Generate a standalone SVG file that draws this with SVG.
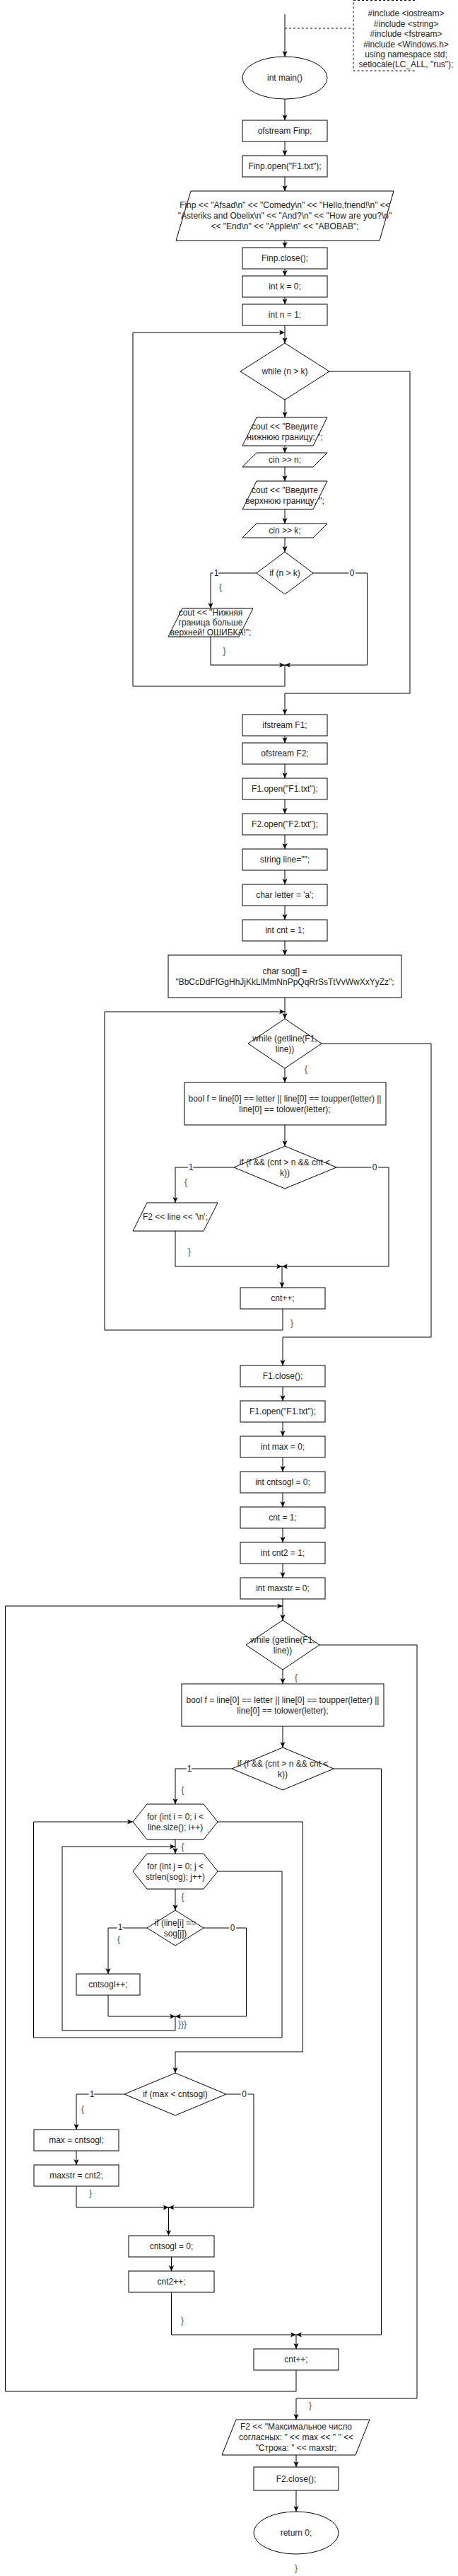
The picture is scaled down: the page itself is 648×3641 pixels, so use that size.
<svg xmlns="http://www.w3.org/2000/svg" width="648" height="3641" viewBox="0 0 648 3641">
<defs>
<marker id="a" viewBox="0 0 10 10" refX="10" refY="5" markerWidth="8" markerHeight="8" markerUnits="userSpaceOnUse" orient="auto">
<path d="M0,0.5 L10,5 L0,9.5 L2.5,5 Z" fill="#000"/>
</marker>
<style>
.n{fill:#fff;stroke:#000;stroke-width:1}
.t{font-family:"Liberation Sans",Arial,sans-serif;font-size:12px;fill:#222;text-anchor:middle;dominant-baseline:central}
.c{fill:none;stroke:#000;stroke-width:1;marker-end:url(#a)}
.p{fill:none;stroke:#000;stroke-width:1}
.d{fill:none;stroke:#000;stroke-width:1;stroke-dasharray:3 3}
.e{font-family:"Liberation Sans",Arial,sans-serif;font-size:12px;fill:#222;text-anchor:middle;dominant-baseline:central;stroke:#fff;stroke-width:4;paint-order:stroke}
.b{font-family:"Liberation Sans",Arial,sans-serif;font-size:12px;fill:#555;text-anchor:middle;dominant-baseline:central}
</style>
</defs>
<rect width="648" height="3641" fill="#fff"/>

<g id="connectors">
<path class="p" d="M403,20 V80" marker-end="url(#a)"/>
<path class="d" d="M403,40 H500"/>
<path class="c" d="M403,140 V170"/>
<path class="c" d="M403,200 V220"/>
<path class="c" d="M403,250 V270"/>
<path class="c" d="M403,340 V350"/>
<path class="c" d="M403,380 V390"/>
<path class="c" d="M403,420 V430"/>
<path class="c" d="M403,460 V485"/>
<path class="c" d="M403,940 V970 H188 V470 H403"/>
<path class="c" d="M403,565 V590"/>
<path class="c" d="M403,630 V640"/>
<path class="c" d="M403,660 V680"/>
<path class="c" d="M403,720 V740"/>
<path class="c" d="M403,760 V780"/>
<path class="c" d="M363,810 H298 V860"/>
<path class="c" d="M443,810 H519.5 V940 H403"/>
<path class="c" d="M298,900 V940 H403"/>
<path class="c" d="M466,525 H580 V980 H403 V1010"/>
<path class="c" d="M403,1040 V1050"/>
<path class="c" d="M403,1080 V1100"/>
<path class="c" d="M403,1130 V1150"/>
<path class="c" d="M403,1180 V1200"/>
<path class="c" d="M403,1230 V1250"/>
<path class="c" d="M403,1280 V1300"/>
<path class="c" d="M403,1330 V1350"/>
<path class="c" d="M403,1410 V1440"/>
<path class="c" d="M400,1850 V1880 H148 V1430 H403"/>
<path class="c" d="M403,1510 V1530"/>
<path class="c" d="M403,1590 V1620"/>
<path class="c" d="M331,1650 H248 V1700"/>
<path class="c" d="M476,1650 H550 V1790 H399"/>
<path class="c" d="M248,1740 V1790 H399"/>
<path class="c" d="M399,1790 V1820"/>
<path class="c" d="M455,1475 H610 V1890 H400 V1930"/>
<path class="c" d="M400,1960 V1980"/>
<path class="c" d="M400,2010 V2030"/>
<path class="c" d="M400,2060 V2080"/>
<path class="c" d="M400,2110 V2130"/>
<path class="c" d="M400,2160 V2180"/>
<path class="c" d="M400,2210 V2230"/>
<path class="c" d="M400,2260 V2290"/>
<path class="c" d="M419,3350 V3380 H7.5 V2270 H400"/>
<path class="c" d="M400,2360 V2380"/>
<path class="c" d="M400,2440 V2470"/>
<path class="c" d="M328,2500 H248 V2550"/>
<path class="c" d="M472,2500 H539.5 V3300 H419"/>
<path class="c" d="M248,2600 V2620"/>
<path class="c" d="M248,2850 V2870 H88 V2610 H248"/>
<path class="c" d="M248,2670 V2700"/>
<path class="c" d="M208,2725 H153 V2790"/>
<path class="c" d="M288,2725 H348.5 V2850 H248"/>
<path class="c" d="M153,2820 V2850 H248"/>
<path class="c" d="M308,2645 H399 V2880 H47.5 V2575 H188"/>
<path class="c" d="M308,2575 H428.5 V2900 H248 V2930"/>
<path class="c" d="M176,2960 H108 V3010"/>
<path class="c" d="M320,2960 H359 V3120 H238.5"/>
<path class="c" d="M108,3040 V3060"/>
<path class="c" d="M108,3090 V3120 H238.5"/>
<path class="c" d="M238.5,3120 V3160"/>
<path class="c" d="M242.5,3190 V3210"/>
<path class="c" d="M242.5,3240 V3300 H419"/>
<path class="c" d="M419,3300 V3320"/>
<path class="c" d="M452,2325 H590 V3390 H419 V3420"/>
<path class="c" d="M419,3470 V3487"/>
<path class="c" d="M419,3520 V3550"/>
<text class="e" x="306" y="810">1</text>
<text class="e" x="498" y="810">0</text>
<text class="e" x="270" y="1650">1</text>
<text class="e" x="530" y="1650">0</text>
<text class="e" x="268" y="2500">1</text>
<text class="e" x="170" y="2724">1</text>
<text class="e" x="329" y="2725">0</text>
<text class="e" x="130" y="2960">1</text>
<text class="e" x="345.5" y="2960">0</text>
<text class="b" x="312" y="830">{</text>
<text class="b" x="317.5" y="920">}</text>
<text class="b" x="433" y="1511">{</text>
<text class="b" x="263" y="1671">{</text>
<text class="b" x="268" y="1769">}</text>
<text class="b" x="413" y="1870">}</text>
<text class="b" x="419" y="2371">{</text>
<text class="b" x="258.5" y="2530">{</text>
<text class="b" x="258.5" y="2610">{</text>
<text class="b" x="258.5" y="2681">{</text>
<text class="b" x="168" y="2741">{</text>
<text class="b" x="258" y="2861">}}}</text>
<text class="b" x="117" y="2981">{</text>
<text class="b" x="128" y="3100">}</text>
<text class="b" x="258" y="3280">}</text>
<text class="b" x="439" y="3400">}</text>
<text class="b" x="419" y="3630">}</text>
</g>

<g id="note">
<path class="d" d="M587,0.5 H500 V100 H587"/>
<text class="t" x="574.5" y="19">#include &lt;iostream&gt;</text>
<text class="t" x="574.5" y="33.5">#include &lt;string&gt;</text>
<text class="t" x="574.5" y="48">#include &lt;fstream&gt;</text>
<text class="t" x="574.5" y="62.5">#include &lt;Windows.h&gt;</text>
<text class="t" x="574.5" y="77">using namespace std;</text>
<text class="t" x="574.5" y="91">setlocale(LC_ALL, "rus");</text>
</g>

<g id="main"><ellipse class="n" cx="403" cy="110" rx="60" ry="30"/><text class="t" x="403" y="110">int main()</text></g>
<g id="ofFinp"><rect class="n" x="343" y="170" width="120" height="30"/><text class="t" x="403" y="185">ofstream Finp;</text></g>
<g id="finpOpen"><rect class="n" x="343" y="220" width="120" height="30"/><text class="t" x="403" y="235">Finp.open("F1.txt");</text></g>
<g id="finpWrite"><polygon class="n" points="270,270 557,270 537,340 249,340"/>
<text class="t" x="403" y="290">Finp &lt;&lt; "Afsad\n" &lt;&lt; "Comedy\n" &lt;&lt; "Hello,friend!\n" &lt;&lt;</text>
<text class="t" x="403" y="305">"Asteriks and Obelix\n" &lt;&lt; "And?\n" &lt;&lt; "How are you?\n"</text>
<text class="t" x="403" y="320">&lt;&lt; "End\n" &lt;&lt; "Apple\n" &lt;&lt; "ABOBAB";</text></g>
<g id="finpClose"><rect class="n" x="343" y="350" width="120" height="30"/><text class="t" x="403" y="365">Finp.close();</text></g>
<g id="intK"><rect class="n" x="343" y="390" width="120" height="30"/><text class="t" x="403" y="405">int k = 0;</text></g>
<g id="intN"><rect class="n" x="343" y="430" width="120" height="30"/><text class="t" x="403" y="445">int n = 1;</text></g>
<g id="whileNK"><polygon class="n" points="403,485 466,525 403,565 340,525"/><text class="t" x="403" y="525">while (n &gt; k)</text></g>
<g id="coutLow"><polygon class="n" points="363,590 463,590 443,630 343,630"/>
<text class="t" x="403" y="602.5">cout &lt;&lt; "Введите</text><text class="t" x="403" y="617.5">нижнюю границу: ";</text></g>
<g id="cinN"><polygon class="n" points="363,640 463,640 443,660 343,660"/><text class="t" x="403" y="650">cin &gt;&gt; n;</text></g>
<g id="coutHigh"><polygon class="n" points="363,680 463,680 443,720 343,720"/>
<text class="t" x="403" y="692.5">cout &lt;&lt; "Введите</text><text class="t" x="403" y="707.5">верхнюю границу: ";</text></g>
<g id="cinK"><polygon class="n" points="363,740 463,740 443,760 343,760"/><text class="t" x="403" y="750">cin &gt;&gt; k;</text></g>
<g id="ifNK"><polygon class="n" points="403,780 443,810 403,840 363,810"/><text class="t" x="403" y="810">if (n &gt; k)</text></g>
<g id="coutErr"><polygon class="n" points="258,860 358,860 338,900 238,900"/>
<text class="t" x="298" y="866">cout &lt;&lt; "Нижняя</text><text class="t" x="298" y="880">граница больше</text><text class="t" x="298" y="894">верхней! ОШИБКА!";</text></g>
<g id="ifF1"><rect class="n" x="343" y="1010" width="120" height="30"/><text class="t" x="403" y="1025">ifstream F1;</text></g>
<g id="ofF2"><rect class="n" x="343" y="1050" width="120" height="30"/><text class="t" x="403" y="1065">ofstream F2;</text></g>
<g id="f1Open"><rect class="n" x="343" y="1100" width="120" height="30"/><text class="t" x="403" y="1115">F1.open("F1.txt");</text></g>
<g id="f2Open"><rect class="n" x="343" y="1150" width="120" height="30"/><text class="t" x="403" y="1165">F2.open("F2.txt");</text></g>
<g id="strLine"><rect class="n" x="343" y="1200" width="120" height="30"/><text class="t" x="403" y="1215">string line="";</text></g>
<g id="charLetter"><rect class="n" x="343" y="1250" width="120" height="30"/><text class="t" x="403" y="1265">char letter = 'a';</text></g>
<g id="intCnt"><rect class="n" x="343" y="1300" width="120" height="30"/><text class="t" x="403" y="1315">int cnt = 1;</text></g>
<g id="charSog"><rect class="n" x="238" y="1350" width="330" height="60"/>
<text class="t" x="403" y="1372.5">char sog[] =</text><text class="t" x="403" y="1387.5">"BbCcDdFfGgHhJjKkLlMmNnPpQqRrSsTtVvWwXxYyZz";</text></g>
<g id="while1"><polygon class="n" points="403,1440 455,1475 403,1510 351,1475"/>
<text class="t" x="403" y="1468">while (getline(F1,</text><text class="t" x="403" y="1483">line))</text></g>
<g id="boolF1"><rect class="n" x="261" y="1530" width="285" height="60"/>
<text class="t" x="403" y="1552.5">bool f = line[0] == letter || line[0] == toupper(letter) ||</text><text class="t" x="403" y="1567.5">line[0] == tolower(letter);</text></g>
<g id="ifF"><polygon class="n" points="403,1620 476,1650 403,1680 331,1650"/>
<text class="t" x="403" y="1642.5">if (f &amp;&amp; (cnt &gt; n &amp;&amp; cnt &lt;</text><text class="t" x="403" y="1657.5">k))</text></g>
<g id="f2Line"><polygon class="n" points="208,1700 308,1700 288,1740 188,1740"/><text class="t" x="248" y="1720">F2 &lt;&lt; line &lt;&lt; '\n';</text></g>
<g id="cntInc1"><rect class="n" x="340" y="1820" width="120" height="30"/><text class="t" x="400" y="1835">cnt++;</text></g>
<g id="f1Close"><rect class="n" x="340" y="1930" width="120" height="30"/><text class="t" x="400" y="1945">F1.close();</text></g>
<g id="f1Open2"><rect class="n" x="340" y="1980" width="120" height="30"/><text class="t" x="400" y="1995">F1.open("F1.txt");</text></g>
<g id="intMax"><rect class="n" x="340" y="2030" width="120" height="30"/><text class="t" x="400" y="2045">int max = 0;</text></g>
<g id="intCntsogl"><rect class="n" x="340" y="2080" width="120" height="30"/><text class="t" x="400" y="2095">int cntsogl = 0;</text></g>
<g id="cnt1"><rect class="n" x="340" y="2130" width="120" height="30"/><text class="t" x="400" y="2145">cnt = 1;</text></g>
<g id="intCnt2"><rect class="n" x="340" y="2180" width="120" height="30"/><text class="t" x="400" y="2195">int cnt2 = 1;</text></g>
<g id="intMaxstr"><rect class="n" x="340" y="2230" width="120" height="30"/><text class="t" x="400" y="2245">int maxstr = 0;</text></g>
<g id="while2"><polygon class="n" points="400,2290 452,2325 400,2360 348,2325"/>
<text class="t" x="400" y="2317.5">while (getline(F1,</text><text class="t" x="400" y="2332.5">line))</text></g>
<g id="boolF2"><rect class="n" x="257" y="2380" width="286" height="60"/>
<text class="t" x="400" y="2402.5">bool f = line[0] == letter || line[0] == toupper(letter) ||</text><text class="t" x="400" y="2417.5">line[0] == tolower(letter);</text></g>
<g id="ifF2"><polygon class="n" points="400,2470 472,2500 400,2530 328,2500"/>
<text class="t" x="400" y="2492.5">if (f &amp;&amp; (cnt &gt; n &amp;&amp; cnt &lt;</text><text class="t" x="400" y="2507.5">k))</text></g>
<g id="forI"><polygon class="n" points="208,2550 288,2550 308,2575 288,2600 208,2600 188,2575"/>
<text class="t" x="248" y="2567.5">for (int i = 0; i &lt;</text><text class="t" x="248" y="2582.5">line.size(); i++)</text></g>
<g id="forJ"><polygon class="n" points="208,2620 288,2620 308,2645 288,2670 208,2670 188,2645"/>
<text class="t" x="248" y="2637.5">for (int j = 0; j &lt;</text><text class="t" x="248" y="2652.5">strlen(sog); j++)</text></g>
<g id="ifEq"><polygon class="n" points="248,2700 288,2725 248,2750 208,2725"/>
<text class="t" x="248" y="2717.5">if (line[i] ==</text><text class="t" x="248" y="2732.5">sog[j])</text></g>
<g id="cntsoglInc"><rect class="n" x="108" y="2790" width="90" height="30"/><text class="t" x="153" y="2805">cntsogl++;</text></g>
<g id="ifMax"><polygon class="n" points="248,2930 320,2960 248,2990 176,2960"/><text class="t" x="248" y="2960">if (max &lt; cntsogl)</text></g>
<g id="maxAssign"><rect class="n" x="48" y="3010" width="120" height="30"/><text class="t" x="108" y="3025">max = cntsogl;</text></g>
<g id="maxstrAssign"><rect class="n" x="48" y="3060" width="120" height="30"/><text class="t" x="108" y="3075">maxstr = cnt2;</text></g>
<g id="cntsoglZero"><rect class="n" x="182" y="3160" width="121" height="30"/><text class="t" x="242.5" y="3175">cntsogl = 0;</text></g>
<g id="cnt2Inc"><rect class="n" x="182" y="3210" width="121" height="30"/><text class="t" x="242.5" y="3225">cnt2++;</text></g>
<g id="cntInc2"><rect class="n" x="359" y="3320" width="120" height="30"/><text class="t" x="419" y="3335">cnt++;</text></g>
<g id="f2Result"><polygon class="n" points="334,3420 523,3420 503,3470 314,3470"/>
<text class="t" x="419" y="3430">F2 &lt;&lt; "Максимальное число</text><text class="t" x="419" y="3445">согласных: " &lt;&lt; max &lt;&lt; " " &lt;&lt;</text><text class="t" x="419" y="3460">"Строка: " &lt;&lt; maxstr;</text></g>
<g id="f2Close"><rect class="n" x="359" y="3487" width="120" height="33"/><text class="t" x="419" y="3503.5">F2.close();</text></g>
<g id="ret"><ellipse class="n" cx="419" cy="3580" rx="60" ry="30"/><text class="t" x="419" y="3580">return 0;</text></g>
</svg>
